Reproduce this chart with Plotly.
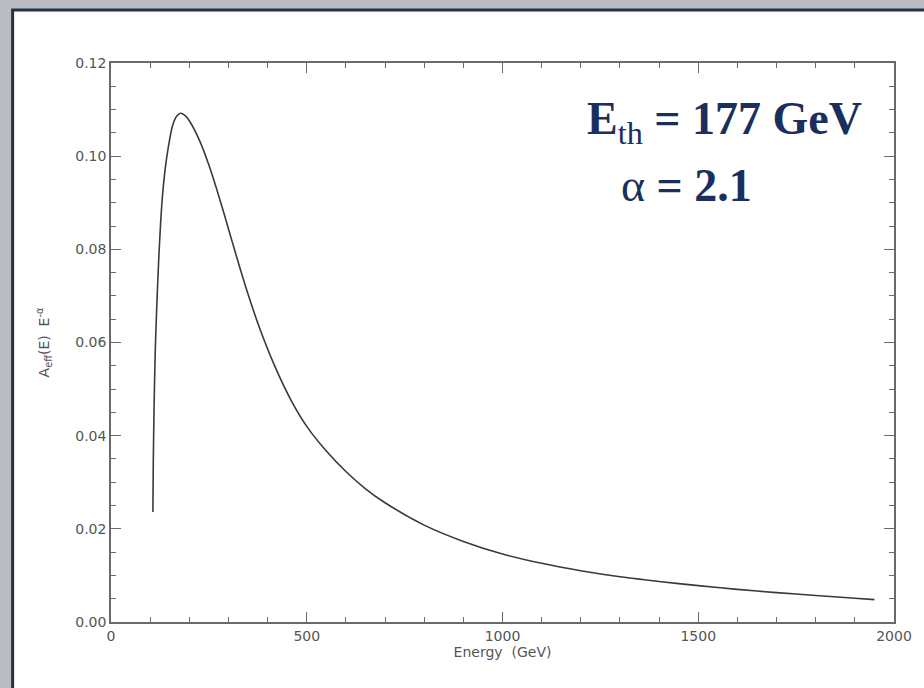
import plotly.graph_objects as go

# Energy (GeV) and A_eff(E) E^-alpha values
energy = [107, 108, 110, 113, 117, 122, 127, 132, 138, 145, 157, 168, 177, 188, 200,
          226, 250, 270, 290, 310, 345, 380, 420, 460, 500, 550, 600, 650, 700, 800, 900,
          1000, 1100, 1200, 1300, 1400, 1500, 1600, 1700, 1800, 1900, 1950]
rate = [0.0236, 0.034, 0.046, 0.058, 0.068, 0.078, 0.086, 0.092, 0.097, 0.1012,
        0.1065, 0.1086, 0.1092, 0.1088, 0.1076,
        0.1034, 0.0981, 0.0929, 0.0873, 0.0815, 0.0717, 0.0630, 0.0546, 0.0476, 0.0420,
        0.0367, 0.0323, 0.0286, 0.0256, 0.0208, 0.0173,
        0.0146, 0.0126, 0.0110, 0.0097, 0.0087, 0.0078, 0.0070, 0.0063, 0.0057, 0.0051, 0.0048]

x_ticks = [0, 500, 1000, 1500, 2000]
y_ticks = [0.00, 0.02, 0.04, 0.06, 0.08, 0.10, 0.12]

W, H = 924, 688
L, R, T, B = 111, 25, 63, 66
pw, ph = W - L - R, H - T - B

def px(xp):
    return (xp - L) / pw

def py(yp):
    return (H - B - yp) / ph

fig = go.Figure()
fig.add_trace(go.Scatter(x=energy, y=rate, mode="lines",
                         line=dict(color="#3a3a3a", width=1.6, shape="spline", smoothing=0.8),
                         showlegend=False, hoverinfo="skip"))

axis_common = dict(showgrid=False, zeroline=False, showline=True, linecolor="#6a6a6a",
                   linewidth=1.5, ticks="inside", ticklen=10, tickwidth=1.2,
                   tickcolor="#6a6a6a", mirror="ticks",
                   tickfont=dict(family="DejaVu Sans", size=14, color="#555555"))

fig.update_xaxes(range=[0, 2000], tickvals=x_ticks, ticktext=[str(v) for v in x_ticks],
                 minor=dict(ticks="inside", dtick=100, ticklen=5, tickcolor="#6a6a6a", tickwidth=1),
                 title=dict(text="Energy  (GeV)", standoff=4,
                            font=dict(family="DejaVu Sans", size=14, color="#555555")),
                 **axis_common)
fig.update_yaxes(range=[0, 0.12], tickvals=y_ticks, ticktext=[f"{v:.2f}" for v in y_ticks],
                 minor=dict(ticks="inside", dtick=0.005, ticklen=5, tickcolor="#6a6a6a", tickwidth=1),
                 title=dict(text="A<sub>eff</sub>(E)  E<sup>-α</sup>", standoff=22,
                            font=dict(family="DejaVu Sans", size=14, color="#555555")),
                 **axis_common)

# slide frame: grey surround with dark border around white panel
fig.add_shape(type="rect", xref="paper", yref="paper", layer="below",
              x0=px(12), x1=px(940), y0=py(700), y1=py(10),
              fillcolor="white", line=dict(color="#243247", width=3))

fig.add_annotation(xref="paper", yref="paper", x=px(588), y=py(122), xanchor="left",
                   yanchor="middle", showarrow=False,
                   text="<b>E</b><sub>th</sub> <b>= 177 GeV</b>",
                   font=dict(family="Liberation Serif", size=46, color="#1b2f5e"))
fig.add_annotation(xref="paper", yref="paper", x=px(622), y=py(185), xanchor="left",
                   yanchor="middle", showarrow=False,
                   text="α <b>= 2.1</b>",
                   font=dict(family="Liberation Serif", size=46, color="#1b2f5e"))

fig.update_layout(width=W, height=H, margin=dict(l=L, r=R, t=T, b=B),
                  paper_bgcolor="#b9bdc3", plot_bgcolor="white")

fig.write_html("out.html")
